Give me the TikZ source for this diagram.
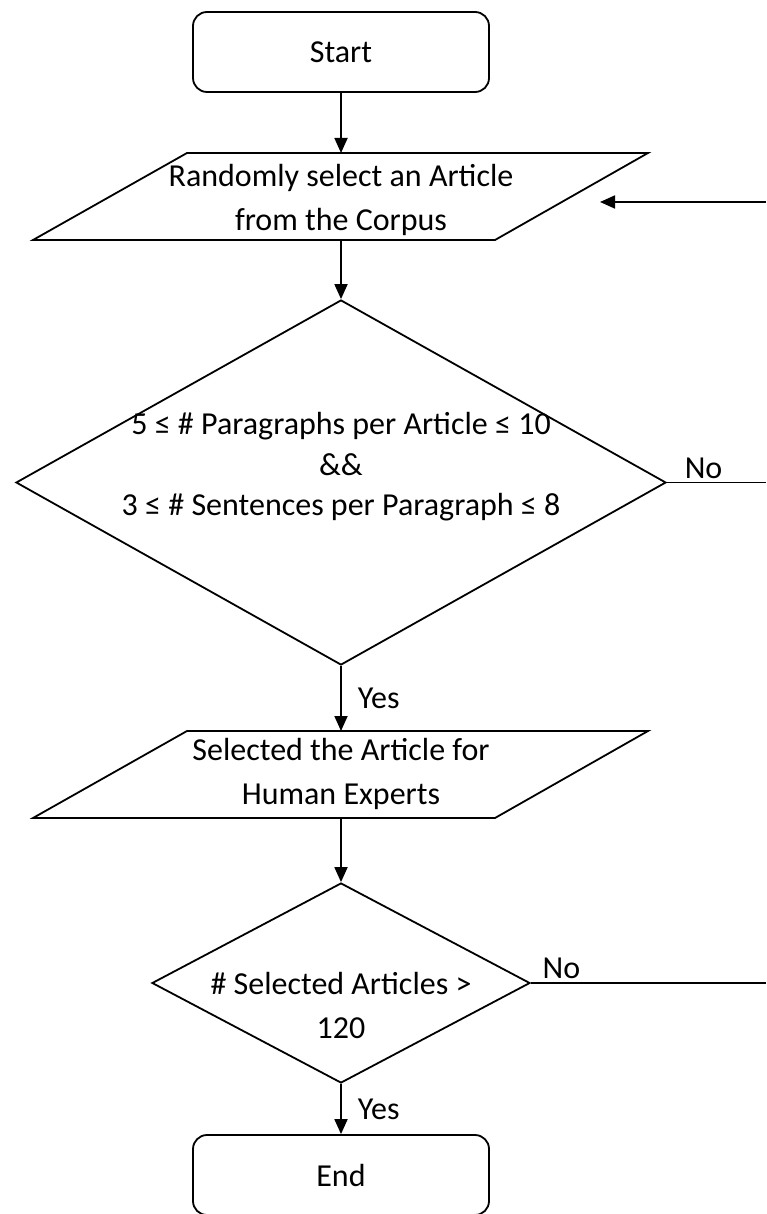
\documentclass[tikz,border=0pt]{standalone}
\usepackage{fontspec}
\setmainfont{Carlito}
\usetikzlibrary{shapes.geometric,arrows.meta}
\begin{document}
\begin{tikzpicture}[x=1pt,y=-1pt,
  line width=1.8pt,
  every node/.style={font=\fontsize{32}{44}\selectfont},
  term/.style={draw, rectangle, rounded corners=14pt, minimum width=296pt, minimum height=80pt, inner sep=0pt},
  io/.style={draw, line join=miter},
  dec/.style={draw, diamond, inner sep=0pt},
  txt/.style={align=center, inner sep=0pt},
  arr/.style={-{Triangle[length=15pt,width=13pt]}},
  lbl/.style={inner sep=0pt}
]
\useasboundingbox (0,0) rectangle (766,1214);
% terminals
\node[term] (start) at (341,52) {Start};
\node[term] (end) at (341,1175) {End};

% input/output parallelograms
\coordinate (p1a) at (187,153); \coordinate (p1b) at (648,153);
\coordinate (p1c) at (495,240); \coordinate (p1d) at (33,240);
\coordinate (p1n) at (341,153); \coordinate (p1s) at (341,240);
\draw[io] (p1a) -- (p1b) -- (p1c) -- (p1d) -- cycle;
\node[txt] (t1) at (341,200) {Randomly select an Article\\from the Corpus};

\coordinate (p2a) at (187,731); \coordinate (p2b) at (648,731);
\coordinate (p2c) at (495,818); \coordinate (p2d) at (33,818);
\coordinate (p2n) at (341,731); \coordinate (p2s) at (341,818);
\draw[io] (p2a) -- (p2b) -- (p2c) -- (p2d) -- cycle;
\node[txt] (t3) at (341,774) {Selected the Article for\\Human Experts};

% decisions
\node[dec, minimum width=650pt, minimum height=365pt] (d1) at (341,482.5) {};
\node[txt, font=\fontsize{32}{40.5}\selectfont] (t2) at (341,467) {5 ≤ \# Paragraphs per Article ≤ 10\\\&\&\\3 ≤ \# Sentences per Paragraph ≤ 8};
\node[dec, minimum width=378pt, minimum height=200pt] (d2) at (341,983) {};
\node[txt] (t4) at (341,1005) {\# Selected Articles >\\120};

\coordinate (r0) at (766,202);
\coordinate (fb) at (600,202);
\coordinate (r1) at (766,482.5);
\coordinate (r2) at (766,983);

\draw[arr] (start.south) -- (p1n);
\draw[arr] (p1s) -- (d1.north);
\draw[arr] (d1.south) -- node[lbl, right=16pt] {Yes} (p2n);
\draw[arr] (p2s) -- (d2.north);
\draw[arr] (d2.south) -- node[lbl, right=16pt] {Yes} (end.north);
\draw (d1.east) -- node[lbl, pos=0.37, above=3pt] {No} (r1);
\draw (d2.east) -- node[lbl, pos=0.13, above=3pt] {No} (r2);
\draw[arr] (r0) -- (fb);
\end{tikzpicture}
\end{document}
